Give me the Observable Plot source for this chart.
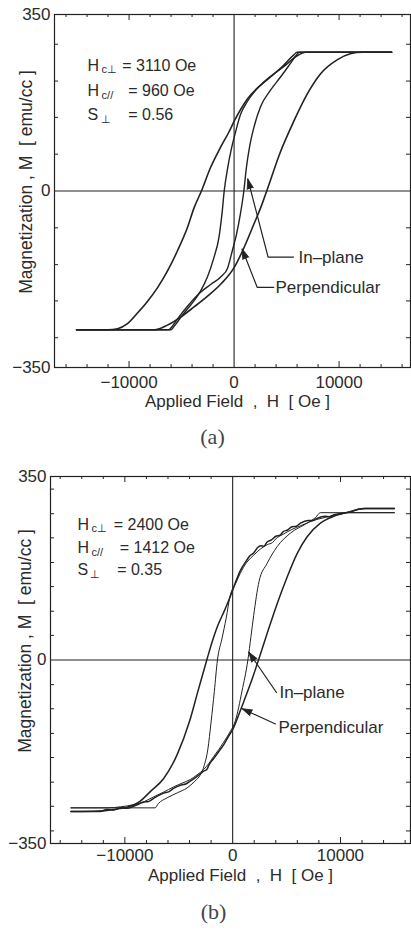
<!DOCTYPE html>
<html><head><meta charset="utf-8">
<script src="https://cdn.jsdelivr.net/npm/d3@7"></script>
<script src="https://cdn.jsdelivr.net/npm/@observablehq/plot@0.6"></script>
<style>body{margin:0;background:#fff} svg{display:block}</style>
</head><body><div id="chart"></div>
<script>
// ---------- shared tick / label data ----------
const xMinorTicks = [-16000,-14000,-12000,-8000,-6000,-4000,-2000,2000,4000,6000,8000,12000,14000,16000];
const xMajorTicks = [-10000, 10000];
const xTickLabels = [-10000, 0, 10000];
const yTickLabels = [-350, 0, 350];
const xTitle = "Applied Field\u00A0 ,\u00A0 H\u00A0 [ Oe ]";
const yTitle = "Magnetization , M\u00A0 [ emu/cc ]";
const yTicksA = [-291,-218,-146,-73,73,146,218,291];
const yTicksB = [-326,-279,-233,-186,-140,-93,-47,47,93,140,186,233,279,326];

// ---------- panel (a) loops: [H (Oe), M (emu/cc)] ----------
const aPerpDown = [[-15000,-275],[-12000,-275],[-11100,-273],[-10150,-263],[-9200,-242],[-8250,-219],[-7300,-192],[-6350,-159],[-5400,-119],[-4450,-73],[-3820,-34],[-3110,0],[-2230,47],[-1280,87],[-490,117],[0,138],[1250,182],[2830,216],[4740,247],[6000,268],[6800,275],[15000,275]];
const aPerpUp = [[-15000,-275],[-7500,-275],[-6350,-266],[-5090,-250],[-3820,-230],[-2550,-209],[-1280,-185],[0,-152],[870,-116],[1880,-66],[2700,-24],[3110,0],[4420,78],[5680,138],[6960,192],[8220,232],[9810,260],[11070,272],[12200,275],[15000,275]];
const aInDown = [[-15000,-275],[-6000,-275],[-5700,-268],[-5090,-251],[-4450,-234],[-3820,-218],[-3180,-198],[-2550,-171],[-1920,-132],[-1440,-92],[-1150,-45],[-940,0],[-600,47],[-220,87],[140,117],[620,152],[1250,177],[2200,203],[3470,226],[4740,250],[5690,270],[6000,275],[15000,275]];
const aInUp = [[-15000,-275],[-6200,-275],[-6000,-271],[-5370,-253],[-4420,-228],[-3470,-206],[-2200,-185],[-1250,-170],[-620,-153],[-150,-117],[220,-87],[590,-47],[930,0],[1170,46],[1480,88],[1900,127],[2520,167],[3470,200],[4420,226],[5370,253],[6000,271],[6200,275],[15000,275]];
const aParams = [{sym:"H", sub:"c\u22A5", val:"= 3110 Oe"},{sym:"H", sub:"c//", val:"= 960 Oe"},{sym:"S", sub:"\u22A5", val:"= 0.56"}];

// ---------- panel (b) loops ----------
const bPerpDown = [[-15000,-289],[-12400,-288],[-10730,-284],[-9500,-279],[-8570,-269],[-7640,-251],[-6400,-226],[-5160,-181],[-4000,-117],[-3200,-58],[-2400,0],[-1900,35],[-1450,62],[-700,97],[-200,122],[300,150],[700,170],[1300,190],[1600,199],[1950,204],[2300,214],[2600,218],[2900,217],[3200,225],[3600,229],[4000,236],[4400,238],[4700,245],[5100,248],[5500,254],[5900,255],[6300,261],[7000,266],[7400,266],[7800,270],[8600,274],[9000,273],[9400,277],[10200,280],[10900,283],[11800,288],[12300,289],[15000,289]];
const bInDown = [[-15000,-282],[-7200,-282],[-6900,-274],[-6090,-263],[-5100,-253],[-4230,-244],[-3500,-231],[-3000,-219],[-2650,-202],[-2300,-170],[-2000,-118],[-1700,-60],[-1412,0],[-1000,40],[-600,80],[-250,121],[300,147],[700,165],[1300,186],[1700,195],[1950,200],[2600,212],[3200,220],[3700,224],[4000,231],[4700,240],[5500,249],[6300,256],[7100,263],[7800,268],[8600,272],[9400,276],[10200,279],[10800,281],[15000,281]];
const bPerpUp = [[-15000,-289],[-12300,-289],[-11660,-285],[-11000,-286],[-10400,-282],[-9800,-283],[-9190,-279],[-8200,-271],[-7800,-270],[-7330,-264],[-6400,-254],[-5900,-251],[-5480,-245],[-4700,-238],[-4300,-236],[-3930,-231],[-3300,-222],[-2690,-212],[-2400,-209],[-2200,-200],[-1760,-188],[-1300,-175],[-840,-162],[-400,-146],[90,-129],[500,-108],[1020,-80],[1640,-46],[2400,0],[3190,50],[4120,107],[5050,158],[5980,203],[6910,235],[8140,261],[9380,274],[10930,283],[12170,289],[15000,289]];
const bInUp = [[-15000,-282],[-11500,-282],[-10400,-280],[-9190,-276],[-8200,-270],[-7330,-261],[-6400,-252],[-5480,-242],[-4700,-235],[-3930,-228],[-3300,-219],[-2690,-209],[-2200,-197],[-1760,-184],[-1300,-171],[-840,-157],[-300,-139],[250,-116],[870,-59],[1412,0],[1700,45],[1950,85],[2450,150],[3190,184],[4120,216],[5360,242],[6910,261],[7700,272],[8140,281],[15000,281]];
const bParams = [{sym:"H", sub:"c\u22A5", val:"= 2400 Oe"},{sym:"H", sub:"c//", val:"= 1412 Oe"},{sym:"S", sub:"\u22A5", val:"= 0.35"}];

const ink = "#222";
const txt = "#2b2b2b";
const sans = "'Liberation Sans', Arial, Helvetica, sans-serif";

function panel(cfg) {
  const fw = 411 - cfg.ml - cfg.mr;
  const fh = cfg.height - cfg.mt - cfg.mb;
  const line = (data, sw) => Plot.line(data, {x: d => d[0], y: d => d[1], stroke: ink, strokeWidth: sw, curve: "monotone-x"});
  const marks = [
    Plot.ruleX([0], {stroke: ink, strokeWidth: 1.1}),
    Plot.ruleY([0], {stroke: ink, strokeWidth: 1.1}),
    Plot.ruleX(xMinorTicks, {insetTop: fh - 3, stroke: ink}),
    Plot.ruleX(xMinorTicks, {insetBottom: fh - 3, stroke: ink}),
    Plot.ruleX(xMajorTicks, {insetTop: fh - 6, stroke: ink}),
    Plot.ruleX(xMajorTicks, {insetBottom: fh - 6, stroke: ink}),
    Plot.ruleY(cfg.yTicks, {insetRight: fw - 4, stroke: ink}),
    Plot.ruleY(cfg.yTicks, {insetLeft: fw - 4, stroke: ink}),
    Plot.frame({stroke: ink, strokeWidth: 1.2}),
    ...cfg.curves.map(([d, sw]) => line(d, sw)),
    Plot.axisX(xTickLabels, {tickSize: 0, tickPadding: cfg.xPad, tickFormat: d3.format("d"), fontSize: 17, label: null}),
    Plot.axisY(yTickLabels, {tickSize: 0, tickPadding: 4, tickFormat: d3.format("d"), fontSize: 17, label: null}),
    Plot.text([xTitle], {frameAnchor: "bottom", dy: cfg.xTitleDy, dx: cfg.xTitleDx, text: d => d, textAnchor: "middle", fontSize: 17, fill: txt}),
    Plot.text([yTitle], {frameAnchor: "left", dx: cfg.yTitleDx, dy: cfg.yTitleDy, rotate: -90, text: d => d, textAnchor: "middle", fontSize: 17.5, fill: txt}),
    Plot.text([cfg.caption], {frameAnchor: "bottom", dy: cfg.capDy, dx: cfg.capDx, text: d => d, textAnchor: "middle", fontSize: 22, fontFamily: "'Liberation Serif', 'DejaVu Serif', serif", fill: "#444"}),
  ];
  cfg.params.forEach((p, i) => {
    const pos = {x: () => cfg.paramX, y: () => cfg.paramY[i], textAnchor: "start", fill: txt};
    marks.push(Plot.text([p], {...pos, text: d => d.sym, fontSize: 16}));
    marks.push(Plot.text([p], {...pos, text: d => d.sub, fontSize: 11, dx: p.sym === "S" ? 13 : 14, dy: 4}));
    marks.push(Plot.text([p], {...pos, text: d => d.val, fontSize: 16, dx: cfg.valDx[i]}));
  });
  cfg.leaders.forEach(L => {
    marks.push(Plot.line(L.pts, {x: d => d[0], y: d => d[1], stroke: ink, strokeWidth: 1.2}));
    const tip = [L.pts[0]];
    if (Plot.spike) {
      marks.push(Plot.vector(tip, {x: d => d[0], y: d => d[1], rotate: L.rot, length: 10, r: 3.2, shape: "spike", anchor: "end", fill: ink, fillOpacity: 1, stroke: ink, strokeWidth: 0.8}));
    } else {
      marks.push(Plot.dot(tip, {x: d => d[0], y: d => d[1], symbol: "triangle", r: 4, fill: ink, rotate: L.rot}));
    }
    marks.push(Plot.text([L.label], {x: () => L.tx, y: () => L.ty, text: d => d, textAnchor: "start", fontSize: 17, fill: txt}));
  });
  return Plot.plot({
    width: 411, height: cfg.height,
    marginTop: cfg.mt, marginBottom: cfg.mb, marginLeft: cfg.ml, marginRight: cfg.mr,
    x: {domain: cfg.xDomain},
    y: {domain: [-350, 350]},
    style: {fontFamily: sans, fontSize: "17px", color: txt, background: "#fff", overflow: "visible"},
    marks
  });
}

const chart = document.getElementById("chart");
chart.append(panel({
  height: 462, mt: 14, mb: 95, ml: 54, mr: 1,
  xDomain: [-17100, 16800], yTicks: yTicksA, xPad: 8,
  curves: [[aPerpDown, 1.6], [aPerpUp, 1.6], [aInDown, 1.4], [aInUp, 1.4]],
  xTitleDy: 39, xTitleDx: 5, yTitleDx: -28, yTitleDy: -9,
  caption: "(a)", capDy: 76, capDx: -20,
  params: aParams, paramX: -13950, paramY: [249, 198, 150], valDx: [34.7, 40.7, 40.7],
  leaders: [
    {pts: [[1305, 24], [3238, -131], [5657, -131]], rot: -14.5, label: "In\u2013plane", tx: 6133, ty: -131},
    {pts: [[771, -115], [2200, -191], [3781, -191]], rot: -21.3, label: "Perpendicular", tx: 3943, ty: -191}
  ]
}));
chart.append(panel({
  height: 469, mt: 14, mb: 88, ml: 50, mr: 1,
  xDomain: [-16900, 16500], yTicks: yTicksB, xPad: 5,
  curves: [[bPerpDown, 1.5], [bPerpUp, 1.5], [bInDown, 1.0], [bInUp, 1.0]],
  xTitleDy: 37, xTitleDx: 10, yTitleDx: -25, yTitleDy: -19,
  caption: "(b)", capDy: 75, capDx: -17,
  params: bParams, paramX: -14400, paramY: [258, 213, 171], valDx: [36.3, 42.3, 39.7],
  leaders: [
    {pts: [[1494, 15], [4064, -62]], rot: -34.5, label: "In\u2013plane", tx: 4342, ty: -62},
    {pts: [[881, -93], [3971, -122]], rot: -65.7, label: "Perpendicular", tx: 4250, ty: -129}
  ]
}));
</script></body></html>
